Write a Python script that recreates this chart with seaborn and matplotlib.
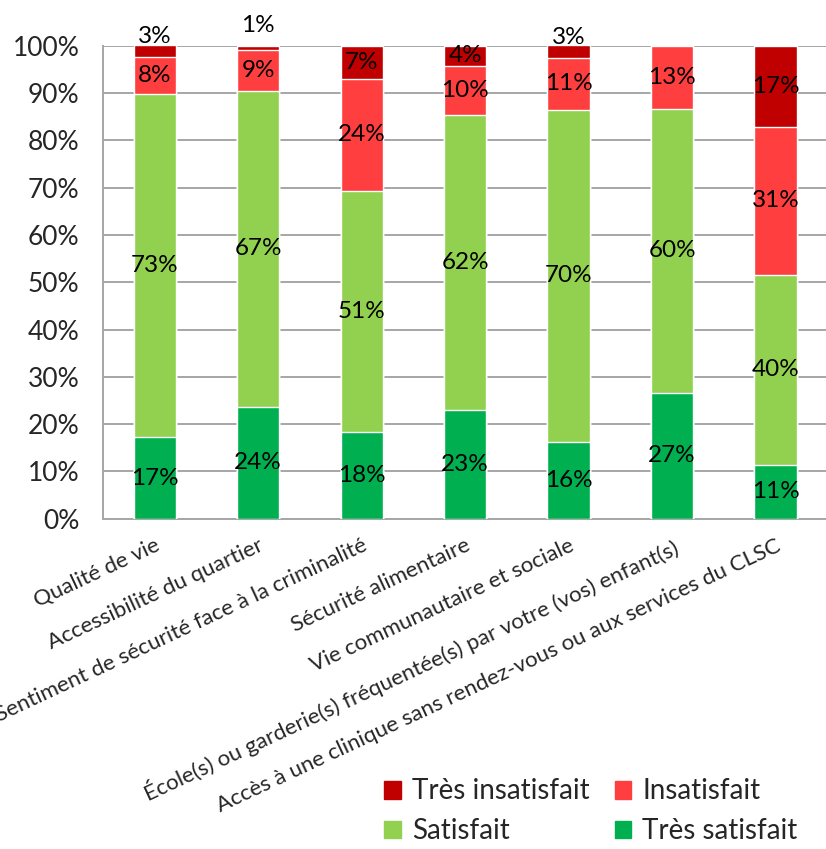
import numpy as np
import pandas as pd
import matplotlib
matplotlib.use("Agg")
import matplotlib.pyplot as plt
from matplotlib.patches import Patch
import seaborn as sns

sns.set_style("white")
plt.rcParams["font.family"] = ["Lato", "DejaVu Sans"]

categories = [
    "Qualité de vie",
    "Accessibilité du quartier",
    "Sentiment de sécurité face à la criminalité",
    "Sécurité alimentaire",
    "Vie communautaire et sociale",
    "École(s) ou garderie(s) fréquentée(s) par votre (vos) enfant(s)",
    "Accès à une clinique sans rendez-vous ou aux services du CLSC",
]
tres_satisfait = [17.2, 23.7, 18.4, 23.0, 16.3, 26.6, 11.4]
satisfait = [72.6, 66.8, 51.0, 62.4, 70.2, 60.1, 40.2]
insatisfait = [7.8, 8.7, 23.6, 10.4, 11.0, 13.3, 31.3]
tres_insatisfait = [2.6, 0.8, 7.0, 4.2, 2.6, 0.0, 17.1]

series = ["Très satisfait", "Satisfait", "Insatisfait", "Très insatisfait"]
colors = {"Très satisfait": "#00B050", "Satisfait": "#92D050",
          "Insatisfait": "#FF3F3F", "Très insatisfait": "#C00000"}

df = pd.DataFrame({"cat": categories, "Très satisfait": tres_satisfait,
                   "Satisfait": satisfait, "Insatisfait": insatisfait,
                   "Très insatisfait": tres_insatisfait})
tops = df[series].cumsum(axis=1)

fig = plt.figure(figsize=(8.26, 8.49), dpi=100)
ax = fig.add_axes([0.1247, 0.389, 0.877, 0.557])

# draw stacked bars from the top down so each one covers the one above
for s in reversed(series):
    sns.barplot(x=df["cat"], y=tops[s], color=colors[s], width=0.41,
                saturation=1, ax=ax, zorder=3)

# data labels (small top segments get pushed up like in Excel)
for i in range(len(categories)):
    bottom = 0
    for s in series:
        v = df.loc[i, s]
        if v > 0:
            y = bottom + v / 2
            if v < 2:
                y = bottom + v + 4.4
            elif v < 3.5:
                y = bottom + v + 1.7
            ax.text(i, y, f"{round(v)}%", ha="center", va="center",
                    fontsize=17.5, color="black", zorder=5)
        bottom += v

ax.set_xlim(-0.5, 6.5)
ax.set_ylim(0, 100)
ax.set_yticks(np.arange(0, 101, 10))
ax.set_yticklabels([f"{t}%" for t in range(0, 101, 10)], fontsize=19)
ax.yaxis.grid(True, color="#A6A6A6", linewidth=1.4, zorder=0)
ax.set_axisbelow(True)
ax.set_xlabel("")
ax.set_ylabel("")

for sp in ["top", "right"]:
    ax.spines[sp].set_visible(False)
for sp in ["left", "bottom"]:
    ax.spines[sp].set_color("#A6A6A6")
    ax.spines[sp].set_linewidth(1.4)

ax.tick_params(axis="y", direction="out", length=6, width=1.4, color="#A6A6A6", pad=11)
ax.set_xticks(range(len(categories)))
ax.set_xticklabels(categories, rotation=25, ha="right", rotation_mode="anchor", fontsize=16)
ax.tick_params(axis="x", length=0, pad=12)
ax.set_xticks(np.arange(-0.5, 7, 1), minor=True)
ax.tick_params(axis="x", which="minor", direction="out", length=6, width=1.4, color="#A6A6A6")

handles = [Patch(color=colors[s]) for s in ["Très insatisfait", "Satisfait", "Insatisfait", "Très satisfait"]]
labels = ["Très insatisfait", "Satisfait", "Insatisfait", "Très satisfait"]
fig.legend(handles, labels, ncol=2, loc="lower left", bbox_to_anchor=(0.435, -0.024),
           frameon=False, fontsize=20, handlelength=0.6, handleheight=0.6,
           handletextpad=0.4, columnspacing=0.9, labelspacing=0.5)

fig.savefig("out.png", dpi=100)
